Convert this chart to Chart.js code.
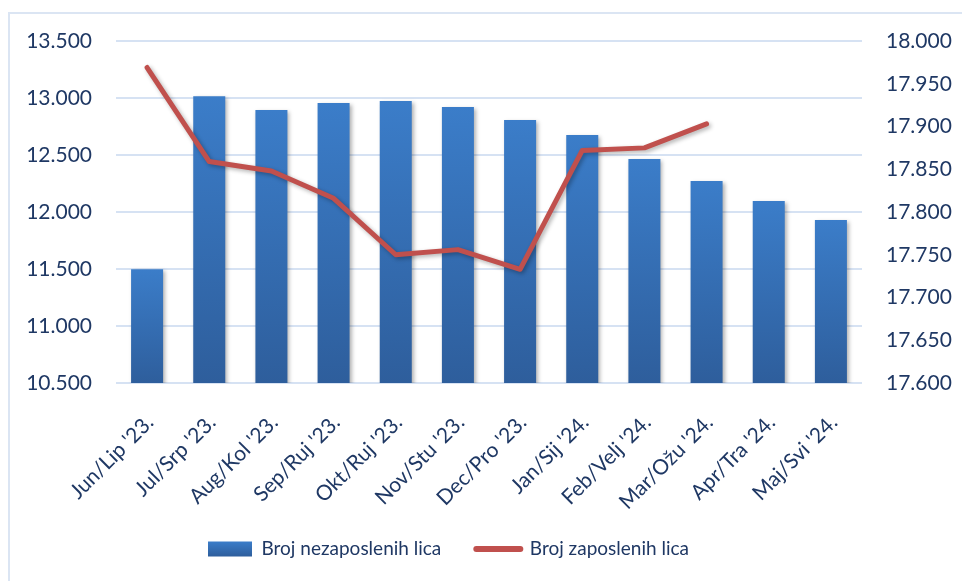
<!DOCTYPE html>
<html>
<head>
<meta charset="utf-8">
<script src="https://cdn.jsdelivr.net/npm/chart.js@4/dist/chart.umd.min.js"></script>
<style>
  html, body { margin: 0; padding: 0; background: #ffffff; overflow: hidden; }
  #wrap { position: relative; width: 962px; height: 581px; }
  #frame { position: absolute; left: 8px; top: 12px; width: 980px; height: 600px;
           border: 2px solid #dbe5f3; box-sizing: border-box; }
  #c { position: absolute; left: 0; top: 0; }
</style>
</head>
<body>
<div id="wrap">
  <div id="frame"></div>
  <canvas id="c" width="962" height="581"></canvas>
</div>
<script>
// Months (Bosnian / Croatian names)
const months = [
  "Jun/Lip '23.", "Jul/Srp '23.", "Aug/Kol '23.", "Sep/Ruj '23.",
  "Okt/Ruj '23.", "Nov/Stu '23.", "Dec/Pro '23.", "Jan/Sij '24.",
  "Feb/Velj '24.", "Mar/Ožu '24.", "Apr/Tra '24.", "Maj/Svi '24."
];

// Number of unemployed persons (left axis)
const unemployed = [11497, 13015, 12895, 12956, 12974, 12921, 12807, 12675, 12465, 12272, 12096, 11930];

// Number of employed persons (right axis); no data yet for the last two months
const employed = [17969, 17859, 17848, 17816, 17750, 17756, 17733, 17872, 17875, 17903, null, null];

const seriesNames = ["Broj nezaposlenih lica", "Broj zaposlenih lica"];

// Axis ranges
const leftAxis = { min: 10500, max: 13500, step: 500 };
const rightAxis = { min: 17600, max: 18000, step: 50 };

const TEXT = '#1f3864';
const GRID = '#d6e2f3';
const BAR_TOP = '#3b7dc9';
const BAR_BOTTOM = '#2e5e9c';
const LINE = '#c0504d';

function fmt(v) {
  const t = Math.floor(v / 1000);
  const r = String(Math.round(v % 1000)).padStart(3, '0');
  return t + '.' + r;
}

function barFill(c) {
  const chart = c.chart;
  if (!chart.chartArea || c.type !== 'data') return BAR_TOP;
  const y = chart.scales.y;
  const top = y.getPixelForValue(c.raw);
  const bottom = y.getPixelForValue(y.min);
  const g = chart.ctx.createLinearGradient(0, top, 0, bottom);
  g.addColorStop(0, BAR_TOP);
  g.addColorStop(1, BAR_BOTTOM);
  return g;
}

// soft drop shadow behind bars and the line
const shadowPlugin = {
  id: 'shadow',
  beforeDatasetDraw(chart) {
    const ctx = chart.ctx;
    ctx.save();
    ctx.shadowColor = 'rgba(0,0,0,0.30)';
    ctx.shadowBlur = 4;
    ctx.shadowOffsetX = 2;
    ctx.shadowOffsetY = 2;
  },
  afterDatasetDraw(chart) {
    chart.ctx.restore();
  }
};

// place the legend row under the axis labels
const LEGEND_X = 208, LEGEND_Y = 549;
const legendPlacement = {
  id: 'legendPlacement',
  beforeDraw(chart) {
    const lg = chart.legend;
    if (!lg) return;
    const p = lg.options.labels.padding;
    const fs = lg.options.labels.font.size;
    const w = lg.width, h = lg.height;
    lg.left = LEGEND_X - p;
    lg.right = lg.left + w;
    lg.top = LEGEND_Y - p - fs / 2;
    lg.bottom = lg.top + h;
  }
};

const ctx = document.getElementById('c').getContext('2d');

new Chart(ctx, {
  type: 'bar',
  data: {
    labels: months,
    datasets: [
      {
        type: 'bar',
        label: seriesNames[0],
        data: unemployed,
        yAxisID: 'y',
        backgroundColor: barFill,
        borderWidth: 0,
        categoryPercentage: 1,
        barPercentage: 0.515,
        order: 2
      },
      {
        type: 'line',
        label: seriesNames[1],
        data: employed,
        yAxisID: 'y1',
        borderColor: LINE,
        backgroundColor: LINE,
        borderWidth: 5,
        borderCapStyle: 'round',
        borderJoinStyle: 'round',
        pointRadius: 0,
        tension: 0,
        spanGaps: false,
        order: 1
      }
    ]
  },
  options: {
    responsive: false,
    animation: false,
    devicePixelRatio: 1,
    layout: { padding: { top: 41, left: 0, right: 0, bottom: 0 } },
    plugins: {
      tooltip: { enabled: false },
      legend: {
        position: 'bottom',
        align: 'start',
        labels: {
          usePointStyle: true,
          pointStyleWidth: 44,
          boxHeight: 15,
          padding: 35,
          color: TEXT,
          font: { family: 'Lato', size: 19 },
          generateLabels(chart) {
            const g = chart.ctx.createLinearGradient(0, LEGEND_Y - 7.5, 0, LEGEND_Y + 7.5);
            g.addColorStop(0, BAR_TOP);
            g.addColorStop(1, BAR_BOTTOM);
            return [
              { text: seriesNames[0], fillStyle: g, strokeStyle: g, lineWidth: 0,
                pointStyle: 'rect', fontColor: TEXT, datasetIndex: 0, hidden: false },
              { text: seriesNames[1], fillStyle: LINE, strokeStyle: LINE, lineWidth: 6,
                lineCap: 'round', pointStyle: 'line', fontColor: TEXT, datasetIndex: 1, hidden: false }
            ];
          }
        }
      }
    },
    scales: {
      x: {
        grid: { display: false },
        border: { display: false },
        ticks: {
          autoSkip: false,
          minRotation: 45,
          maxRotation: 45,
          padding: 19,
          labelOffset: 3,
          color: TEXT,
          font: { family: 'Lato', size: 21 }
        },
        afterFit(s) {
          const lh = s.chart.legend ? s.chart.legend.height : 0;
          s.height = s.chart.height - 383 - lh;
        }
      },
      y: {
        position: 'left',
        min: leftAxis.min,
        max: leftAxis.max,
        grid: { color: GRID, lineWidth: 2, drawTicks: false },
        border: { display: false },
        ticks: {
          stepSize: leftAxis.step,
          padding: 24,
          color: TEXT,
          font: { family: 'Lato', size: 21 },
          callback: (v) => fmt(v)
        },
        afterFit(s) { s.width = 116; }
      },
      y1: {
        position: 'right',
        min: rightAxis.min,
        max: rightAxis.max,
        grid: { display: false, drawTicks: false },
        border: { display: false },
        ticks: {
          stepSize: rightAxis.step,
          padding: 24,
          color: TEXT,
          font: { family: 'Lato', size: 21 },
          callback: (v) => fmt(v)
        },
        afterFit(s) { s.width = 100; }
      }
    }
  },
  plugins: [shadowPlugin, legendPlacement]
});
</script>
</body>
</html>
